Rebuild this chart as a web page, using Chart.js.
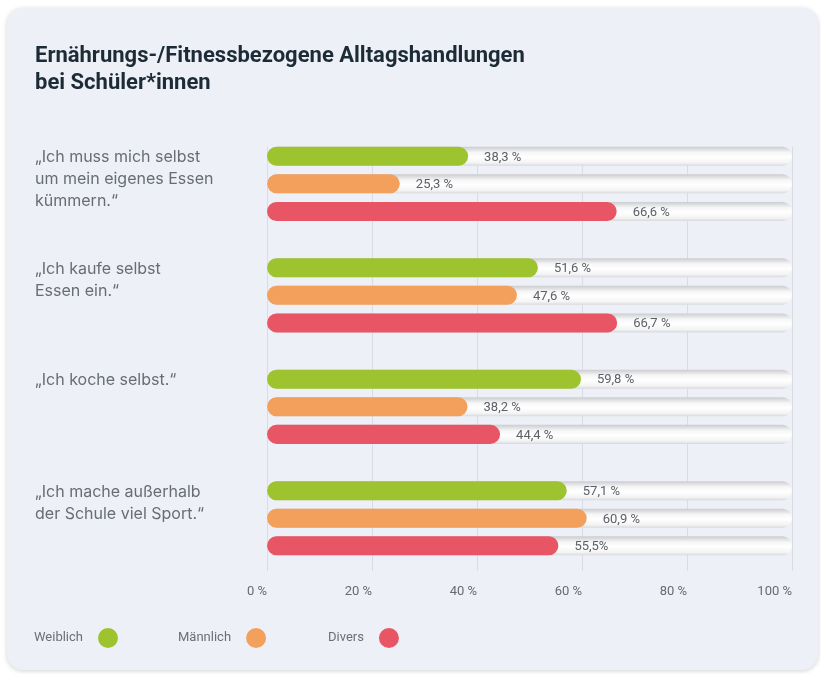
<!DOCTYPE html>
<html>
<head>
<meta charset="utf-8">
<script src="https://cdn.jsdelivr.net/npm/chart.js@4"></script>
<style>
  html, body { margin: 0; padding: 0; background: #ffffff; }
  #card { position: absolute; left: 7px; top: 8px; width: 811px; height: 662px; background: #edf0f6; border-radius: 16px; box-shadow: 0 1px 5px rgba(0,0,0,0.18); }
  #wrap { position: absolute; left: 0; top: 0; width: 821px; height: 674px; }
</style>
</head>
<body>
<div id="card"></div>
<div id="wrap"><canvas id="c"></canvas></div>
<script>
const titleLines = ['Ernährungs-/Fitnessbezogene Alltagshandlungen', 'bei Schüler*innen'];
const categories = [
  ['\u201EIch muss mich selbst', 'um mein eigenes Essen', 'kümmern.\u201C'],
  ['\u201EIch kaufe selbst', 'Essen ein.\u201C'],
  ['\u201EIch koche selbst.\u201C'],
  ['\u201EIch mache außerhalb', 'der Schule viel Sport.\u201C']
];
const seriesNames = ['Weiblich', 'Männlich', 'Divers'];
const seriesColors = ['#9dc42e', '#f2a05c', '#e85665'];
const weiblich = [38.3, 51.6, 59.8, 57.1];
const maennlich = [25.3, 47.6, 38.2, 60.9];
const divers = [66.6, 66.7, 44.4, 55.5];
const weiblichLabels = ['38,3 %', '51,6 %', '59,8 %', '57,1 %'];
const maennlichLabels = ['25,3 %', '47,6 %', '38,2 %', '60,9 %'];
const diversLabels = ['66,6 %', '66,7 %', '44,4 %', '55,5%'];
const xTicks = [0, 20, 40, 60, 80, 100];

const seriesValues = [weiblich, maennlich, divers];
const seriesLabels = [weiblichLabels, maennlichLabels, diversLabels];

function roundRect(ctx, x, y, w, h, r) {
  ctx.beginPath();
  ctx.moveTo(x + r, y);
  ctx.lineTo(x + w - r, y);
  ctx.arc(x + w - r, y + r, r, -Math.PI / 2, Math.PI / 2);
  ctx.lineTo(x + r, y + h);
  ctx.arc(x + r, y + r, r, Math.PI / 2, Math.PI * 1.5);
  ctx.closePath();
}

const customPlugin = {
  id: 'custom',
  beforeDatasetsDraw(chart) {
    const ctx = chart.ctx;
    const xs = chart.scales.x;
    const x0 = xs.getPixelForValue(0);
    const x1 = xs.getPixelForValue(100);
    const firstEl = chart.getDatasetMeta(0).data[0];
    const gTop = firstEl.y - firstEl.height / 2;
    const gBot = chart.chartArea.bottom - 3;
    ctx.save();
    ctx.strokeStyle = '#d9dce3';
    ctx.lineWidth = 1;
    xTicks.forEach(v => {
      const px = Math.round(xs.getPixelForValue(v)) + 0.5;
      ctx.beginPath(); ctx.moveTo(px, gTop); ctx.lineTo(px, gBot); ctx.stroke();
    });
    chart.data.datasets.forEach((ds, di) => {
      chart.getDatasetMeta(di).data.forEach(el => {
        const h = el.height;
        const top = el.y - h / 2;
        const g = ctx.createLinearGradient(0, top, 0, top + h);
        g.addColorStop(0, '#cbccd0');
        g.addColorStop(0.3, '#f6f6f7');
        g.addColorStop(0.55, '#ffffff');
        g.addColorStop(0.85, '#f3f3f4');
        g.addColorStop(1, '#d8d9dc');
        ctx.fillStyle = g;
        roundRect(ctx, x0, top, x1 - x0, h, h / 2);
        ctx.fill();
      });
    });
    ctx.restore();
  },
  afterDatasetsDraw(chart) {
    const ctx = chart.ctx;
    ctx.save();
    ctx.font = '13px Roboto';
    ctx.fillStyle = '#5c6068';
    ctx.textBaseline = 'middle';
    ctx.textAlign = 'left';
    chart.data.datasets.forEach((ds, di) => {
      chart.getDatasetMeta(di).data.forEach((el, i) => {
        ctx.fillText(seriesLabels[di][i], el.x + 16, el.y + 1);
      });
    });
    ctx.font = '16px Inter';
    ctx.fillStyle = '#686c75';
    const meta0 = chart.getDatasetMeta(0);
    categories.forEach((lines, i) => {
      const y0 = meta0.data[i].y;
      lines.forEach((ln, k) => ctx.fillText(ln, 35, y0 + 1 + k * 22));
    });
    ctx.restore();
  },
  afterDraw(chart) {
    const ctx = chart.ctx;
    ctx.save();
    ctx.font = '13px Roboto';
    ctx.textBaseline = 'middle';
    ctx.textAlign = 'left';
    const starts = [34, 178, 328];
    const y = 638;
    seriesNames.forEach((n, i) => {
      const x = starts[i];
      ctx.fillStyle = '#6a6e77';
      ctx.fillText(n, x, y);
      const w = ctx.measureText(n).width;
      ctx.beginPath();
      ctx.fillStyle = seriesColors[i];
      ctx.arc(x + w + 25, y, 10, 0, Math.PI * 2);
      ctx.fill();
    });
    ctx.restore();
  }
};

new Chart(document.getElementById('c'), {
  type: 'bar',
  data: {
    labels: categories.map(c => c.join(' ')),
    datasets: seriesNames.map((n, i) => ({
      label: n,
      data: seriesValues[i],
      backgroundColor: seriesColors[i],
      borderRadius: 10,
      borderSkipped: false,
      categoryPercentage: 0.742,
      barPercentage: 0.69
    }))
  },
  options: {
    indexAxis: 'y',
    responsive: true,
    maintainAspectRatio: false,
    animation: false,
    layout: { padding: { left: 35, right: 29, top: 0, bottom: 70 } },
    plugins: {
      legend: { display: false },
      tooltip: { enabled: false },
      title: {
        display: true,
        text: titleLines,
        align: 'start',
        color: '#1c2b36',
        font: { family: 'Roboto', size: 22, weight: 'bold', lineHeight: 1.23 },
        padding: { top: 43, bottom: 31 }
      }
    },
    scales: {
      x: {
        min: 0, max: 100,
        afterBuildTicks: s => { s.ticks = xTicks.map(v => ({ value: v })); },
        afterFit: s => { s.height = 30; },
        grid: { display: false, drawTicks: false },
        border: { display: false },
        ticks: {
          padding: 10,
          align: 'end',
          color: '#666a72',
          font: { family: 'Roboto', size: 13 },
          callback: v => v + ' %'
        }
      },
      y: {
        afterFit: s => { s.width = 232; },
        grid: { display: false, drawTicks: false },
        border: { display: false },
        ticks: { display: false }
      }
    }
  },
  plugins: [customPlugin]
});
</script>
</body>
</html>
